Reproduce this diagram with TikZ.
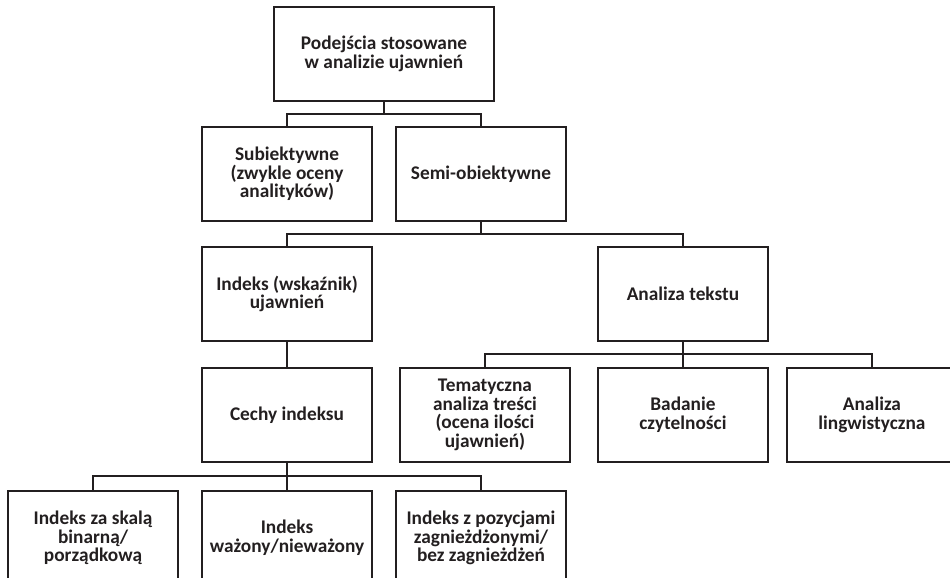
\documentclass[tikz,border=0pt]{standalone}
\usepackage{fontspec}
\setmainfont{Carlito}
\usetikzlibrary{positioning, calc}

\definecolor{ink}{RGB}{35,31,32}

\begin{document}
\begin{tikzpicture} [x = 0.02cm, y = -0.02cm, node distance = 2.4cm, on grid,
every node/.style = {text = ink, font = \bfseries\fontsize{11}{10.6}\selectfont},
box/.style = {draw = ink, line width = 1.1pt, align = center, minimum width = 3.4cm, minimum height = 1.88cm},
tree/.style = {draw = ink, line width = 1.1pt,
  to path = {(\tikztostart) |- ($(\tikztostart)!.5!(\tikztotarget)$) -| (\tikztotarget)}}]

\useasboundingbox (0,0) rectangle (950,578);
\clip (0,0) rectangle (950,578);

\node (top) [box, minimum width = 4.4cm] at (384,54) {Podejścia stosowane\\ w analizie ujawnień};
\node (subj) [box, below left = 2.4cm and 1.94cm of top] {Subiektywne\\(zwykle oceny\\analityków)};
\node (semi) [box, right = 3.88cm of subj] {Semi-obiektywne};
\node (index) [box, below = of subj] {Indeks (wskaźnik)\\ujawnień};
\node (text) [box, right = 7.92cm of index] {Analiza tekstu};
\node (feat) [box, below = 2.42cm of index] {Cechy indeksu};
\node (read) [box, below = 2.42cm of text] {Badanie\\czytelności};
\node (theme) [box, left = 3.96cm of read] {Tematyczna\\analiza treści\\(ocena ilości\\ujawnień)};
\node (ling) [box, right = 3.78cm of read] {Analiza\\lingwistyczna};
\node (scale) [box, below left = 2.46cm and 3.88cm of feat] {Indeks za skalą\\binarną/\\porządkową};
\node (weight) [box, below = 2.46cm of feat] {Indeks\\ważony/nieważony};
\node (nest) [box, below right = 2.46cm and 3.88cm of feat] {Indeks z pozycjami\\zagnieżdżonymi/\\bez zagnieżdżeń};

\path [tree]
  (top.south) edge (subj.north)
  (top.south) edge (semi.north)
  (semi.south) edge (index.north)
  (semi.south) edge (text.north)
  (index.south) edge (feat.north)
  (text.south) edge (theme.north)
  (text.south) edge (read.north)
  (text.south) edge (ling.north)
  (feat.south) edge (scale.north)
  (feat.south) edge (weight.north)
  (feat.south) edge (nest.north);
\end{tikzpicture}
\end{document}
